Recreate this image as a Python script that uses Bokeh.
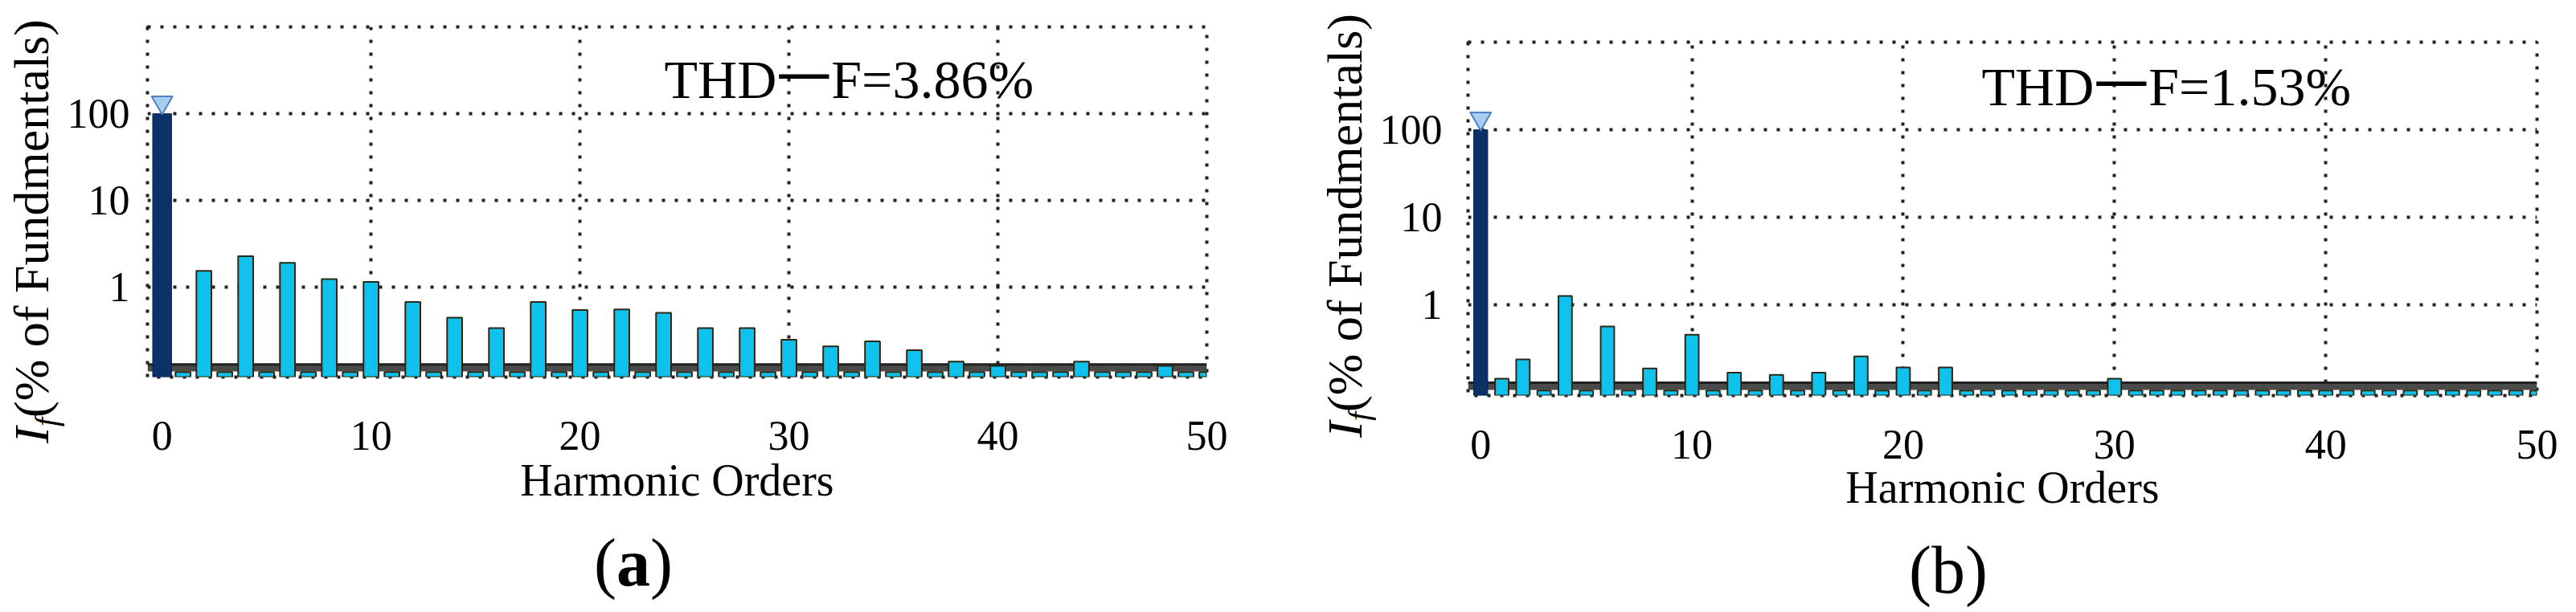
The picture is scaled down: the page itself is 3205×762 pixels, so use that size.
from bokeh.plotting import figure
from bokeh.models import ColumnDataSource, Range1d, FixedTicker, PrintfTickFormatter, Label, Div
from bokeh.layouts import row, column
from bokeh.embed import file_html
from bokeh.resources import INLINE

# ---------------- data ----------------
orders = list(range(51))
x_ticks = [0, 10, 20, 30, 40, 50]
y_ticks = [1, 10, 100]

fund_a = 100.0
harm_a = [0.106, 1.55, 0.106, 2.29, 0.106, 1.92, 0.106, 1.25, 0.106, 1.16,   # 1..10
          0.106, 0.68, 0.106, 0.45, 0.106, 0.34, 0.106, 0.68, 0.106, 0.55,   # 11..20
          0.106, 0.56, 0.106, 0.51, 0.106, 0.34, 0.106, 0.34, 0.106, 0.25,   # 21..30
          0.106, 0.21, 0.106, 0.24, 0.106, 0.19, 0.106, 0.14, 0.106, 0.125,  # 31..40
          0.106, 0.106, 0.106, 0.14, 0.106, 0.106, 0.106, 0.125, 0.106, 0.106]  # 41..50
thd_a = "THD一F=3.86%"
cap_a = "(a)"

fund_b = 100.0
harm_b = [0.145, 0.24, 0.106, 1.27, 0.106, 0.57, 0.106, 0.19, 0.106, 0.46,   # 1..10
          0.106, 0.17, 0.106, 0.16, 0.106, 0.17, 0.106, 0.26, 0.106, 0.195,  # 11..20
          0.106, 0.195, 0.106, 0.106, 0.106, 0.106, 0.106, 0.106, 0.106, 0.145,  # 21..30
          0.106, 0.106, 0.106, 0.106, 0.106, 0.106, 0.106, 0.106, 0.106, 0.106,  # 31..40
          0.106, 0.106, 0.106, 0.106, 0.106, 0.106, 0.106, 0.106, 0.106, 0.106]  # 41..50
thd_b = "THD一F=1.53%"
cap_b = "(b)"

y_title_sym = "I"
y_title_sub = "f"
y_title_main = "(% of Fundmentals)"
x_title = "Harmonic Orders"

# ---------------- style ----------------
Y_MIN, Y_MAX = 0.093, 1000
BAND_LO, BAND_HI = 0.108, 0.130
SERIF = "Liberation Serif"
NAVY = "#0c3168"
CYAN = "#0fc2ee"
EDGE = "#2c2814"
DOT = "4 12"
FIG_H = 632
TOTAL_H = 746


def make_panel(fund, harm, thd, cfg):
    p = figure(title=None, frame_width=cfg["fw"], frame_height=cfg["fh"],
               min_border_left=cfg["bl"], min_border_right=cfg["br"],
               min_border_top=cfg["bt"], min_border_bottom=FIG_H - cfg["bt"] - cfg["fh"],
               x_range=Range1d(cfg["x0"], 50), y_range=Range1d(Y_MIN, Y_MAX),
               y_axis_type="log", output_backend="svg", toolbar_location=None,
               background_fill_color="white", border_fill_color="white")

    # baseline band
    p.quad(left=[cfg["x0"]], right=[50], bottom=[BAND_LO], top=[BAND_HI],
           fill_color="#4a4a4a", line_color=None)
    p.segment(x0=[cfg["x0"]], x1=[50], y0=[BAND_HI], y1=[BAND_HI],
              line_color="#202020", line_width=3)

    src = ColumnDataSource(dict(x=orders[1:], top=harm))
    p.vbar(x="x", top="top", bottom=Y_MIN, width=cfg["bw"], source=src,
           fill_color=CYAN, line_color=EDGE, line_width=2)
    p.vbar(x=[orders[0]], top=[fund], bottom=Y_MIN, width=cfg["fwid"],
           fill_color=NAVY, line_color="#0a2450", line_width=1)
    p.scatter(x=[orders[0]], y=[fund * 1.35], marker="inverted_triangle", size=26,
              fill_color="#a9ccf2", line_color="#4f82c4", line_width=2)

    # grids / outline
    p.xgrid.ticker = FixedTicker(ticks=[10, 20, 30, 40])
    p.ygrid.ticker = FixedTicker(ticks=y_ticks)
    for g in (p.xgrid, p.ygrid):
        g.grid_line_color = "#222222"
        g.grid_line_dash = DOT
        g.grid_line_width = 4
    p.outline_line_color = "#222222"
    p.outline_line_dash = DOT
    p.outline_line_width = 4

    # axes
    p.xaxis.ticker = FixedTicker(ticks=x_ticks)
    p.yaxis.ticker = FixedTicker(ticks=y_ticks)
    p.yaxis.formatter = PrintfTickFormatter(format="%d")
    for ax in (p.xaxis, p.yaxis):
        ax.axis_line_color = None
        ax.major_tick_line_color = None
        ax.minor_tick_line_color = None
        ax.major_label_text_font = SERIF
        ax.major_label_text_font_size = "52px"
        ax.major_label_text_color = "black"
    p.yaxis.major_label_standoff = cfg["ystand"]
    p.xaxis.major_label_standoff = cfg["xstand"]
    p.xaxis.axis_label = x_title
    p.xaxis.axis_label_text_font = SERIF
    p.xaxis.axis_label_text_font_style = "normal"
    p.xaxis.axis_label_text_font_size = "56px"
    p.xaxis.axis_label_text_color = "black"
    p.xaxis.axis_label_standoff = cfg["xlstand"]

    # THD annotation (inside the frame)
    p.add_layout(Label(x=cfg["thx"], y=cfg["thy"], x_units="screen", y_units="screen",
                       text=thd, text_font=SERIF + ", Noto Sans CJK SC",
                       text_font_size="68px", text_color="black",
                       text_baseline="alphabetic", text_align="left"))
    return p


def y_title_div(width, left, top):
    html = (
        f'<div style="position:relative;width:{width}px;height:{TOTAL_H}px;">'
        f'<div style="position:absolute;left:{left}px;top:{top}px;transform-origin:0 0;'
        f'transform:rotate(-90deg);white-space:nowrap;font-family:\'{SERIF}\';'
        f'font-size:62px;line-height:62px;color:black;">'
        f'<i>{y_title_sym}</i><i style="font-size:41px;vertical-align:-11px;">{y_title_sub}</i>'
        f'{y_title_main}</div></div>'
    )
    return Div(text=html, width=width, height=TOTAL_H, margin=0)


def caption_div(cap_html, width, cx, cy):
    h = TOTAL_H - FIG_H
    html = (
        f'<div style="position:relative;width:{width}px;height:{h}px;">'
        f'<div style="position:absolute;left:{cx}px;top:{cy}px;transform:translate(-50%,-50%);'
        f'white-space:nowrap;font-family:\'{SERIF}\';font-size:84px;line-height:84px;color:black;">'
        f'{cap_html}</div></div>'
    )
    return Div(text=html, width=width, height=h, margin=0)


cfg_a = dict(fw=1318, fh=436, bl=103, br=131, bt=33, x0=-0.7, ystand=16,
             xstand=49, xlstand=4, thx=643, thy=371, bw=0.72, fwid=0.9)
cfg_b = dict(fw=1330, fh=440, bl=115, br=33, bt=52, x0=-0.6, ystand=26,
             xstand=37, xlstand=2, thx=639, thy=385, bw=0.64, fwid=0.66)

pa = make_panel(fund_a, harm_a, thd_a, cfg_a)
pb = make_panel(fund_b, harm_b, thd_b, cfg_b)

wa = cfg_a["bl"] + cfg_a["fw"] + cfg_a["br"]
wb = cfg_b["bl"] + cfg_b["fw"] + cfg_b["br"]

cap_a_html = "(<b>a</b>)"
cap_b_html = cap_b

panel_a = row(y_title_div(80, 8, 552),
              column(pa, caption_div(cap_a_html, wa, 605 + cfg_a["bl"], 69), spacing=0),
              spacing=0)
panel_b = row(y_title_div(79, 10, 545),
              column(pb, caption_div(cap_b_html, wb, 598 + cfg_b["bl"], 70), spacing=0),
              spacing=0)

layout = row(panel_a, panel_b, spacing=0)
open("out.html", "w").write(file_html(layout, INLINE))
